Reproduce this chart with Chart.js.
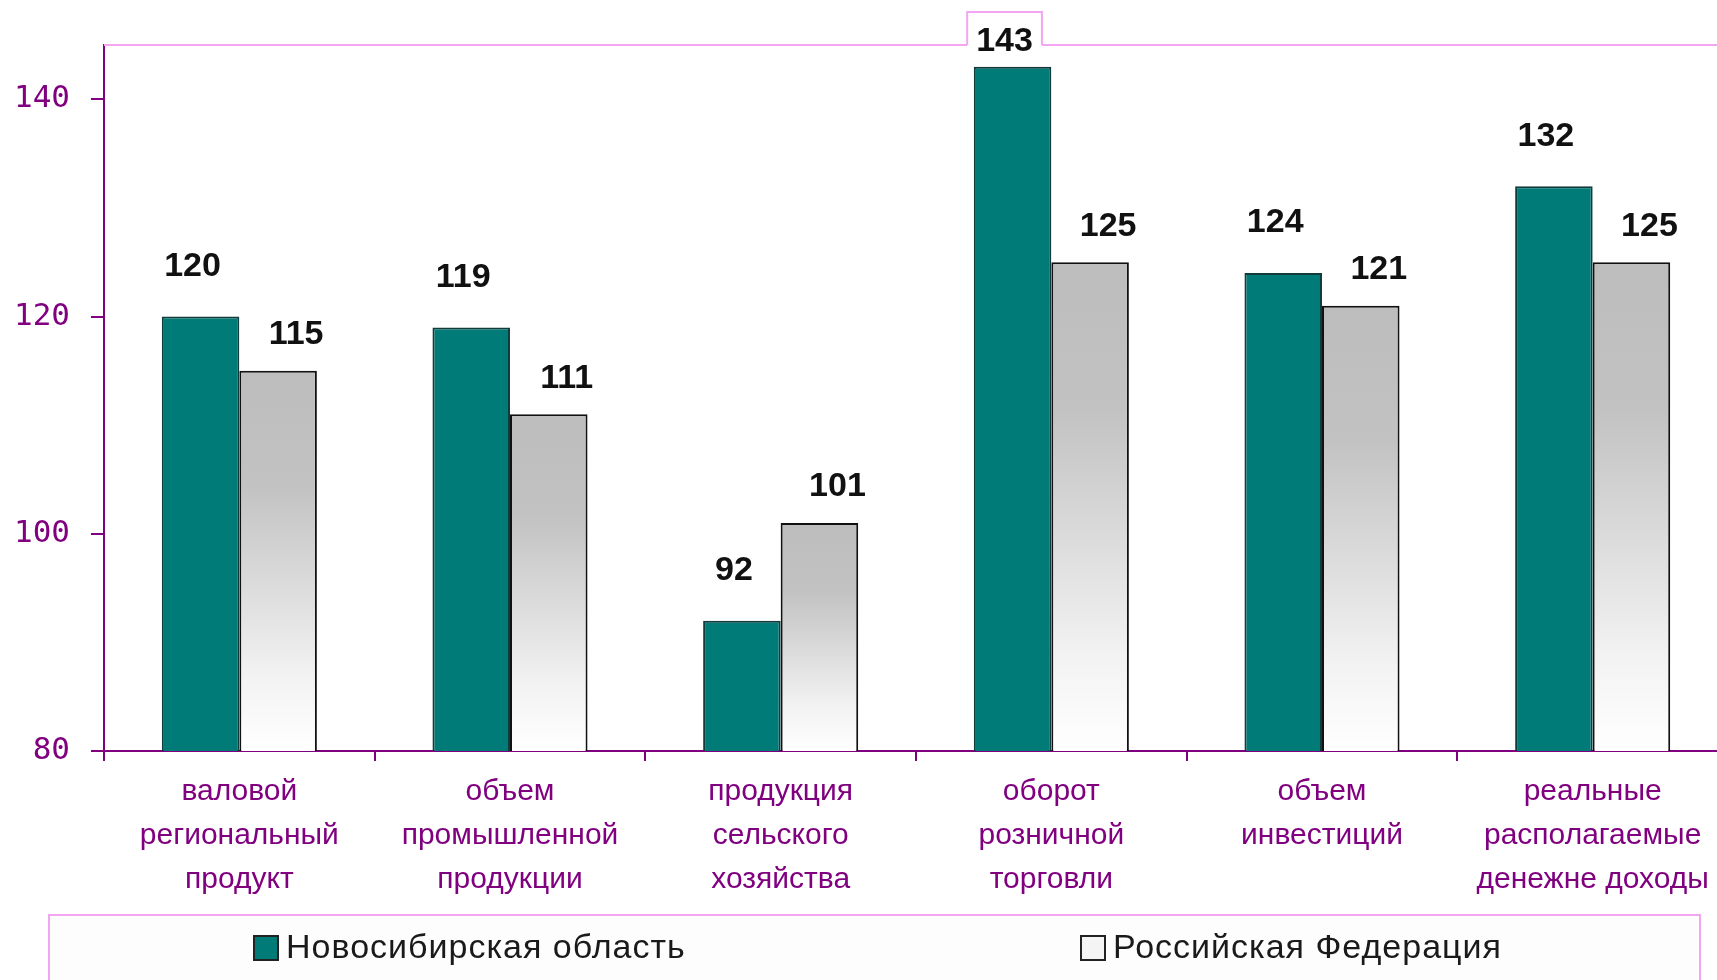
<!DOCTYPE html>
<html lang="ru">
<head>
<meta charset="utf-8">
<title>Новосибирская область и Российская Федерация</title>
<script src="https://cdn.jsdelivr.net/npm/chart.js@4.4.1/dist/chart.umd.min.js"></script>
<style>
  html, body { margin: 0; padding: 0; background: #fff; overflow: hidden; }
  .chart-wrap { position: relative; width: 1730px; height: 980px; }
</style>
</head>
<body>
<div class="chart-wrap"><canvas id="myChart"></canvas></div>
<script>
// data
const categories = [
  ["валовой", "региональный", "продукт"],
  ["объем", "промышленной", "продукции"],
  ["продукция", "сельского", "хозяйства"],
  ["оборот", "розничной", "торговли"],
  ["объем", "инвестиций"],
  ["реальные", "располагаемые", "денежне доходы"],
];
const seriesNames = ["Новосибирская область", "Российская Федерация"];
const novosibirsk = [120, 119, 92, 143, 124, 132];
const russia = [115, 111, 101, 125, 121, 125];
const yTicks = [80, 100, 120, 140];
const yTop = 145;

const PURPLE = "#800080";
const PINK = "#f2a6f2";
const TEAL = "#007b78";

// gray bars fade from gray at the top to white at the base
function grayFade(context) {
  const chart = context.chart;
  if (!chart.chartArea || context.type !== "data") return "#c0c0c0";
  const y = chart.scales.y;
  const top = y.getPixelForValue(context.raw);
  const bottom = y.getPixelForValue(y.min);
  const g = chart.ctx.createLinearGradient(0, top, 0, bottom);
  g.addColorStop(0, "#bdbdbd");
  g.addColorStop(0.3, "#c2c2c2");
  g.addColorStop(0.8, "#f2f2f2");
  g.addColorStop(1, "#ffffff");
  return g;
}

// pink top edge of the plot area
const plotFrame = {
  id: "plotFrame",
  beforeDatasetsDraw(chart) {
    const { ctx, chartArea } = chart;
    ctx.save();
    ctx.strokeStyle = PINK;
    ctx.lineWidth = 2;
    ctx.beginPath();
    ctx.moveTo(chartArea.left, chartArea.top);
    ctx.lineTo(chartArea.right + 5, chartArea.top);
    ctx.stroke();
    ctx.restore();
  },
};

// value labels above the bars
const barLabels = {
  id: "barLabels",
  afterDatasetsDraw(chart) {
    const { ctx, chartArea } = chart;
    const offsets = [{ dx: -8, dy: 50 }, { dx: 18, dy: 36 }];
    ctx.save();
    ctx.font = "bold 34px 'Liberation Sans', Arial, sans-serif";
    ctx.textAlign = "center";
    ctx.textBaseline = "middle";
    chart.data.datasets.forEach((ds, i) => {
      const meta = chart.getDatasetMeta(i);
      meta.data.forEach((bar, j) => {
        const text = String(ds.data[j]);
        const x = bar.x + offsets[i].dx;
        const y = Math.max(bar.y - offsets[i].dy, chartArea.top - 3);
        if (y - 14 < chartArea.top) {
          // label pokes out of the plot area: frame it like the original
          const w = ctx.measureText(text).width + 18;
          const boxTop = y - 30;
          ctx.fillStyle = "#fff";
          ctx.fillRect(x - w / 2, boxTop, w, chartArea.top - boxTop + 1.5);
          ctx.strokeStyle = PINK;
          ctx.lineWidth = 2;
          ctx.beginPath();
          ctx.moveTo(x - w / 2, chartArea.top);
          ctx.lineTo(x - w / 2, boxTop);
          ctx.lineTo(x + w / 2, boxTop);
          ctx.lineTo(x + w / 2, chartArea.top);
          ctx.stroke();
        }
        ctx.fillStyle = "#111";
        ctx.fillText(text, x, y);
      });
    });
    ctx.restore();
  },
};

// legend drawn in a pink framed box at the bottom
const boxLegend = {
  id: "boxLegend",
  afterDraw(chart) {
    const ctx = chart.ctx;
    ctx.save();
    ctx.fillStyle = "#fdfdfd";
    ctx.fillRect(49, 915, 1651, 70);
    ctx.strokeStyle = PINK;
    ctx.lineWidth = 2;
    ctx.strokeRect(49, 915, 1651, 70);

    const itemX = [254, 1081];
    ctx.font = "34px 'Liberation Sans', Arial, sans-serif";
    ctx.letterSpacing = "1px";
    ctx.textBaseline = "middle";
    ctx.textAlign = "left";
    chart.data.datasets.forEach((ds, i) => {
      const x = itemX[i];
      ctx.fillStyle = i === 0 ? TEAL : "#f4f4f4";
      ctx.fillRect(x, 936, 24, 24);
      ctx.strokeStyle = "#222";
      ctx.lineWidth = 2;
      ctx.strokeRect(x, 936, 24, 24);
      ctx.fillStyle = "#1a1a1a";
      ctx.fillText(ds.label, x + 32, 949);
    });
    ctx.restore();
  },
};

const ctx = document.getElementById("myChart").getContext("2d");

new Chart(ctx, {
  type: "bar",
  data: {
    labels: categories,
    datasets: [
      {
        label: seriesNames[0],
        data: novosibirsk,
        backgroundColor: TEAL,
        borderColor: "#123c3b",
        borderWidth: 2,
        barPercentage: 1,
        categoryPercentage: 0.573,
      },
      {
        label: seriesNames[1],
        data: russia,
        backgroundColor: grayFade,
        borderColor: "#111",
        borderWidth: 2,
        barPercentage: 1,
        categoryPercentage: 0.573,
      },
    ],
  },
  options: {
    responsive: true,
    maintainAspectRatio: false,
    animation: false,
    layout: { padding: { top: 45, right: 2, left: 0, bottom: 0 } },
    plugins: {
      legend: { display: false },
      tooltip: { enabled: false },
    },
    scales: {
      x: {
        grid: {
          drawOnChartArea: false,
          offset: true,
          tickLength: 10,
          color: PURPLE,
          lineWidth: 2,
        },
        border: { color: PURPLE, width: 2 },
        ticks: {
          color: PURPLE,
          font: { family: "'Liberation Sans', Arial, sans-serif", size: 30, lineHeight: "44px" },
          padding: 9,
          maxRotation: 0,
          autoSkip: false,
        },
        afterFit: (scale) => {
          scale.height = 229;
        },
      },
      y: {
        min: yTicks[0],
        max: yTop,
        grid: {
          drawOnChartArea: false,
          tickLength: 13,
          color: PURPLE,
          lineWidth: 2,
        },
        border: { color: PURPLE, width: 2 },
        ticks: {
          stepSize: yTicks[1] - yTicks[0],
          includeBounds: false,
          color: PURPLE,
          font: { family: "'DejaVu Sans Mono', monospace", size: 31 },
          padding: 21,
        },
        afterFit: (scale) => {
          scale.width = 104;
        },
      },
    },
  },
  plugins: [plotFrame, barLabels, boxLegend],
});
</script>
</body>
</html>
